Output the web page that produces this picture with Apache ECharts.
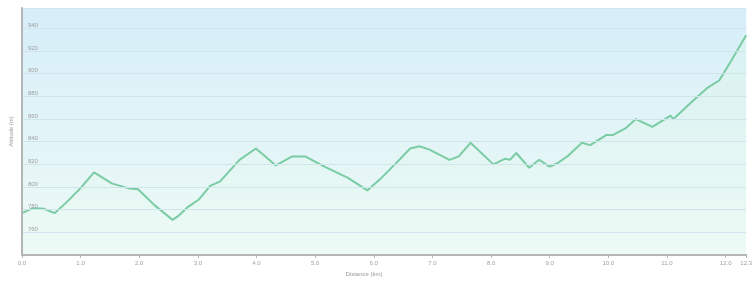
<!DOCTYPE html>
<html lang="en">
<head>
    <meta charset="UTF-8">
    <title>Profilo altimetrico</title>
    <script src="https://cdn.jsdelivr.net/npm/echarts@6/dist/echarts.min.js"></script>
    <style>
        html, body { margin: 0; padding: 0; background: #fff; }
    </style>
</head>
<body>
<div id="main" style="width: 755px;height: 282px;"></div>
<script type="text/javascript">
    // distance (km) and altitude (m)
    var distance = [0.0, 0.17, 0.36, 0.56, 0.75, 1.0, 1.23, 1.54, 1.81, 1.98, 2.26, 2.57, 2.68, 2.82,
        3.02, 3.21, 3.38, 3.71, 3.99, 4.33, 4.61, 4.83, 5.16, 5.56, 5.89, 6.11, 6.36, 6.62, 6.78,
        6.95, 7.29, 7.45, 7.65, 8.04, 8.24, 8.32, 8.43, 8.65, 8.82, 9.0, 9.13, 9.30, 9.55, 9.69,
        9.97, 10.08, 10.30, 10.47, 10.75, 11.06, 11.11, 11.42, 11.70, 11.89, 12.09, 12.35];
    var altitude = [777, 781, 781, 777, 786, 799, 813, 803, 799, 798, 784, 771, 775, 782,
        789, 801, 805, 824, 834, 819, 827, 827, 818, 808, 797, 807, 820, 834, 836,
        833, 824, 827, 839, 820, 825, 824, 830, 817, 824, 818, 821, 827, 839, 837,
        846, 846, 852, 860, 853, 863, 860, 875, 888, 894, 911, 934];

    var xMax = 12.35;
    var yMin = 740, yMax = 958, yStep = 20;

    var points = [];
    for (var i = 0; i < distance.length; i++) {
        points.push([distance[i], altitude[i]]);
    }

    var myChart = echarts.init(document.getElementById('main'));
    myChart.setOption({
        animation: false,
        backgroundColor: '#fff',
        grid: {
            left: 15, right: 2, top: 8, bottom: 23,
            show: true,
            borderWidth: 0,
            backgroundColor: new echarts.graphic.LinearGradient(0, 0, 0, 1, [
                {offset: 0, color: '#d6eef9'},
                {offset: 1, color: '#eefaf6'}
            ])
        },
        xAxis: {
            type: 'value',
            min: 0,
            max: xMax,
            interval: 1,
            z: 5,
            name: 'Distance (km)',
            nameLocation: 'middle',
            nameGap: 16,
            nameTextStyle: {fontSize: 6, color: '#999', padding: [0, 40, 0, 0]},
            axisLine: {lineStyle: {color: '#b5b5b5', width: 2}},
            axisTick: {show: true, length: 3, lineStyle: {color: '#b5b5b5'}},
            axisLabel: {
                fontSize: 6, color: '#a0a0a0', margin: 5, showMaxLabel: true,
                formatter: function (v) { return (Math.floor(v * 10 + 1e-6) / 10).toFixed(1); }
            },
            splitLine: {show: false}
        },
        yAxis: {
            type: 'value',
            min: yMin,
            max: yMax,
            interval: yStep,
            z: 5,
            name: 'Altitude (m)',
            nameLocation: 'middle',
            nameGap: 5,
            nameTextStyle: {fontSize: 6, color: '#999'},
            axisLine: {show: true, lineStyle: {color: '#b5b5b5', width: 2}},
            axisTick: {show: false},
            axisLabel: {
                inside: true, fontSize: 6, color: '#a0a0a0', margin: 6, verticalAlign: 'bottom',
                formatter: function (v) { return (v > yMin && v % yStep === 0) ? String(v) : ''; }
            },
            splitLine: {show: true, lineStyle: {color: '#d0e4eb', width: 1}}
        },
        series: [{
            type: 'line',
            data: points,
            symbol: 'none',
            smooth: false,
            z: 2,
            lineStyle: {color: '#79cca3', width: 2},
            areaStyle: {
                color: new echarts.graphic.LinearGradient(0, 0, 0, 1, [
                    {offset: 0, color: 'rgba(215,245,228,0.5)'},
                    {offset: 1, color: 'rgba(235,251,242,0.5)'}
                ])
            }
        }]
    });
</script>
</body>
</html>
